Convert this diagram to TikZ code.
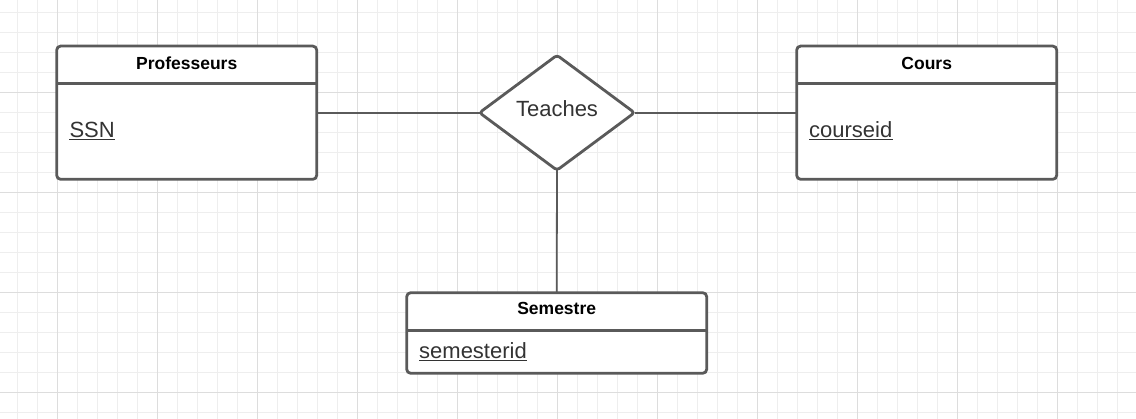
\documentclass[tikz,border=0pt]{standalone}
\usepackage{fontspec}
\setmainfont{Liberation Sans}
\usetikzlibrary{shapes.geometric}
\definecolor{edgegray}{HTML}{5A5A5A}
\definecolor{txtgray}{HTML}{333333}
\definecolor{minorg}{HTML}{EEEEEE}
\definecolor{majorg}{HTML}{DDDDDD}
\tikzset{
  minorgrid/.style={draw=minorg,line width=1pt},
  majorgrid/.style={draw=majorg,line width=1pt},
  entity/.style={draw=edgegray,fill=white,line width=2.8pt,rounded corners=4pt,
    rectangle,minimum width=#1,inner sep=0pt,outer sep=0pt},
  sepline/.style={draw=edgegray,line width=2.8pt},
  rel/.style={diamond,draw=edgegray,fill=white,line width=2.8pt,rounded corners=3pt,
    minimum width=155pt,minimum height=115pt,inner sep=0pt,outer sep=0pt,
    text=txtgray,font=\fontsize{22}{26}\selectfont,text height=16pt,text depth=8pt},
  conn/.style={draw=edgegray,line width=1.8pt},
  header/.style={font=\bfseries\fontsize{17.5}{21}\selectfont,text=black,inner sep=0pt,anchor=base},
  attr/.style={font=\fontsize{22}{26}\selectfont,text=txtgray,inner sep=0pt,anchor=base west},
  uline/.style={draw=txtgray,line width=1.3pt}
}
\begin{document}
\begin{tikzpicture}[x=1pt,y=-1pt]
\useasboundingbox (0,0) rectangle (1136,419);
\fill[white] (0,0) rectangle (1136,419);
% grid
\foreach \x in {17.3,37.3,...,1136} \draw[minorgrid] (\x,0) -- (\x,419);
\foreach \y in {12.3,32.3,...,419} \draw[minorgrid] (0,\y) -- (1136,\y);
\foreach \x in {57.3,157.3,...,1136} \draw[majorgrid] (\x,0) -- (\x,419);
\foreach \y in {92.3,192.3,...,419} \draw[majorgrid] (0,\y) -- (1136,\y);
% entities
\node[entity=260pt,minimum height=133.3pt] (prof) at (186.7,112.7) {};
\node[entity=260pt,minimum height=133.3pt] (cours) at (926.7,112.7) {};
\node[entity=300pt,minimum height=80.6pt] (sem) at (556.7,333) {};
\draw[sepline] (prof.north west) ++(0,37.5) -- ++(260,0);
\draw[sepline] (cours.north west) ++(0,37.5) -- ++(260,0);
\draw[sepline] (sem.north west) ++(0,38) -- ++(300,0);
% headers
\node[header] (profh) at (186.7,69.3) {Professeurs};
\node[header] (coursh) at (926.7,69.3) {Cours};
\node[header] (semh) at (556.7,315) {Semestre};
% attributes
\node[attr] (ssn) at (69.3,137.3) {SSN};
\node[attr] (cid) at (809,137.3) {courseid};
\node[attr] (sid) at (419,358.3) {semesterid};
\draw[uline] (ssn.base west) ++(0,2.5) -- ([yshift=-2.5pt]ssn.base east);
\draw[uline] (cid.base west) ++(0,2.5) -- ([yshift=-2.5pt]cid.base east);
\draw[uline] (sid.base west) ++(0,2.5) -- ([yshift=-2.5pt]sid.base east);
% relationship
\node[rel] (teach) at (557,112.7) {Teaches};
% connectors
\draw[conn] (prof.east) -- (teach.west);
\draw[conn] (teach.east) -- (cours.west);
\draw[conn] (teach.south) -- (sem.north);
\end{tikzpicture}
\end{document}
